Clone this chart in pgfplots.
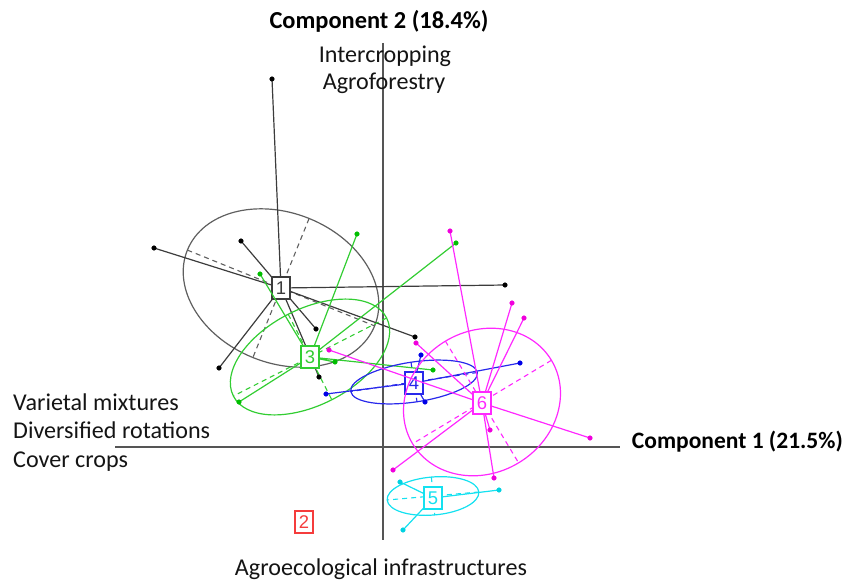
\documentclass[border=0pt]{standalone}
\usepackage{pgfplots}
\pgfplotsset{compat=1.18}
\usepackage{fontspec}
\setmainfont{Carlito}
\newfontfamily\arialfont{Liberation Sans}
\definecolor{axgray}{RGB}{85,85,85}
\definecolor{gA}{RGB}{60,60,60}
\definecolor{gAell}{RGB}{95,95,95}
\definecolor{grn}{RGB}{50,205,50}
\definecolor{grnpt}{RGB}{0,190,0}
\definecolor{blu}{RGB}{40,40,235}
\definecolor{blupt}{RGB}{0,0,230}
\definecolor{mag}{RGB}{255,40,255}
\definecolor{magpt}{RGB}{240,0,220}
\definecolor{cya}{RGB}{20,225,240}
\definecolor{cyapt}{RGB}{0,210,225}
\definecolor{redb}{RGB}{245,60,60}
\definecolor{txt}{RGB}{20,20,20}
\tikzset{
  boxlab/.style={fill=white, inner sep=0pt, minimum width=18bp, minimum height=22bp,
    line width=1.2bp, font=\arialfont\fontsize{18.5}{18.5}\selectfont},
  txtn/.style={text=txt, font=\fontsize{24.2}{27}\selectfont, inner sep=0pt}}
\begin{document}
\begin{tikzpicture}
\begin{axis}[hide axis, x=1bp, y=1bp, xmin=0, xmax=846, ymin=0, ymax=581,
  y dir=reverse, clip=false, enlargelimits=false, scale only axis,
  unbounded coords=jump]
% component axes
\addplot[axgray, line width=1.4bp] coordinates {(383,43) (383,540)};
\addplot[axgray, line width=1.4bp] coordinates {(115,447) (620,447)};

% ---------- group 1 ----------
\draw[gAell, line width=1.2bp, rotate around={-22:(axis cs:281,288)}] (axis cs:281,288) ellipse [x radius=101bp, y radius=75bp];
\addplot[gAell, line width=1.1bp, dash pattern=on 5bp off 4bp] coordinates {
(187.4,250.1) (374.6,325.9) (nan,nan) (309.1,218.5) (252.9,357.5)};
\addplot[gA, line width=1.2bp] coordinates {
(281,288) (272,79) (nan,nan)
(281,288) (154,248) (nan,nan)
(281,288) (241,241) (nan,nan)
(281,288) (505,285) (nan,nan)
(281,288) (316,329) (nan,nan)
(281,288) (219,368) (nan,nan)
(281,288) (319,377) (nan,nan)
(281,288) (415,337)};
\addplot[only marks, mark=*, mark size=2.3bp, black] coordinates {
(272,79) (154,248) (241,241) (505,285) (316,329) (219,368) (319,377) (415,337)};
\node[boxlab, draw=gA, text=gA] at (axis cs:281,288) {1};

% ---------- group 2 ----------
\node[boxlab, draw=redb, text=redb] at (axis cs:304,522) {2};

% ---------- group 3 ----------
\draw[grn, line width=1.2bp, rotate around={27:(axis cs:310,357)}] (axis cs:310,357) ellipse [x radius=86bp, y radius=48bp];
\addplot[grn, line width=1.1bp, dash pattern=on 5bp off 4bp] coordinates {
(386.6,318.0) (233.4,396.0) (nan,nan) (288.2,314.2) (331.8,399.8)};
\addplot[grn, line width=1.2bp] coordinates {
(310,357) (260,274) (nan,nan)
(310,357) (357,234) (nan,nan)
(310,357) (456,243) (nan,nan)
(310,357) (335,362) (nan,nan)
(310,357) (433,370) (nan,nan)
(310,357) (239,402)};
\addplot[only marks, mark=*, mark size=2.3bp, grnpt] coordinates {
(260,274) (357,234) (456,243) (335,362) (433,370) (239,402)};
\node[boxlab, draw=grn, text=grn] at (axis cs:310,357) {3};

% ---------- group 4 ----------
\draw[blu, line width=1.2bp, rotate around={8.5:(axis cs:414,382)}] (axis cs:414,382) ellipse [x radius=64bp, y radius=20bp];
\addplot[blu, line width=1.1bp, dash pattern=on 5bp off 4bp] coordinates {
(477.3,372.5) (350.7,391.5) (nan,nan) (411,362.2) (417,401.8)};
\addplot[blu, line width=1.2bp] coordinates {
(414,383) (421,355) (nan,nan)
(414,383) (425,402) (nan,nan)
(414,383) (326,394) (nan,nan)
(414,383) (520,363)};
\addplot[only marks, mark=*, mark size=2.3bp, blupt] coordinates {
(421,355) (425,402) (326,394) (520,363)};
\node[boxlab, draw=blu, text=blu] at (axis cs:414,383) {4};

% ---------- group 5 ----------
\draw[cya, line width=1.2bp, rotate around={5:(axis cs:433,496)}] (axis cs:433,496) ellipse [x radius=46bp, y radius=19bp];
\addplot[cya, line width=1.1bp, dash pattern=on 5bp off 4bp] coordinates {
(478.8,492) (387.2,500) (nan,nan) (431.4,477.1) (434.7,514.9)};
\addplot[cya, line width=1.2bp] coordinates {
(433,498) (400,482) (nan,nan)
(433,498) (499,490) (nan,nan)
(433,498) (403,530)};
\addplot[only marks, mark=*, mark size=2.3bp, cyapt] coordinates {
(400,482) (499,490) (403,530)};
\node[boxlab, draw=cya, text=cya] at (axis cs:433,498) {5};

% ---------- group 6 ----------
\draw[mag, line width=1.2bp, rotate around={31:(axis cs:482,402)}] (axis cs:482,402) ellipse [x radius=81bp, y radius=71bp];
\addplot[mag, line width=1.1bp, dash pattern=on 5bp off 4bp] coordinates {
(551.4,360.3) (412.6,443.7) (nan,nan) (445.4,341.1) (518.6,462.9)};
\addplot[mag, line width=1.2bp] coordinates {
(482,403) (450,231) (nan,nan)
(482,403) (512,303) (nan,nan)
(482,403) (524,318) (nan,nan)
(482,403) (590,438) (nan,nan)
(482,403) (490,430) (nan,nan)
(482,403) (494,478) (nan,nan)
(482,403) (393,470) (nan,nan)
(482,403) (416,343) (nan,nan)
(482,403) (329,350)};
\addplot[only marks, mark=*, mark size=2.3bp, magpt] coordinates {
(450,231) (512,303) (524,318) (590,438) (490,430) (494,478) (393,470) (416,343) (329,350)};
\node[boxlab, draw=mag, text=mag] at (axis cs:482,403) {6};

% ---------- texts ----------
\node[txtn, text=black, font=\fontsize{24.5}{27}\selectfont\bfseries, anchor=base] at (axis cs:379,29) {Component 2 (18.4\%)};
\node[txtn, anchor=base] at (axis cs:385,63) {Intercropping};
\node[txtn, anchor=base] at (axis cs:384,90) {Agroforestry};
\node[txtn, anchor=base west] at (axis cs:13,410) {Varietal mixtures};
\node[txtn, anchor=base west] at (axis cs:13,438) {Diversified rotations};
\node[txtn, anchor=base west] at (axis cs:13,467) {Cover crops};
\node[txtn, anchor=base] at (axis cs:381,575) {Agroecological infrastructures};
\node[txtn, text=black, font=\fontsize{23.6}{27}\selectfont\bfseries, anchor=base east] at (axis cs:843,448) {Component 1 (21.5\%)};
\end{axis}
\pgfresetboundingbox
\path (current axis.south west) rectangle (current axis.north east);
\end{tikzpicture}
\end{document}
